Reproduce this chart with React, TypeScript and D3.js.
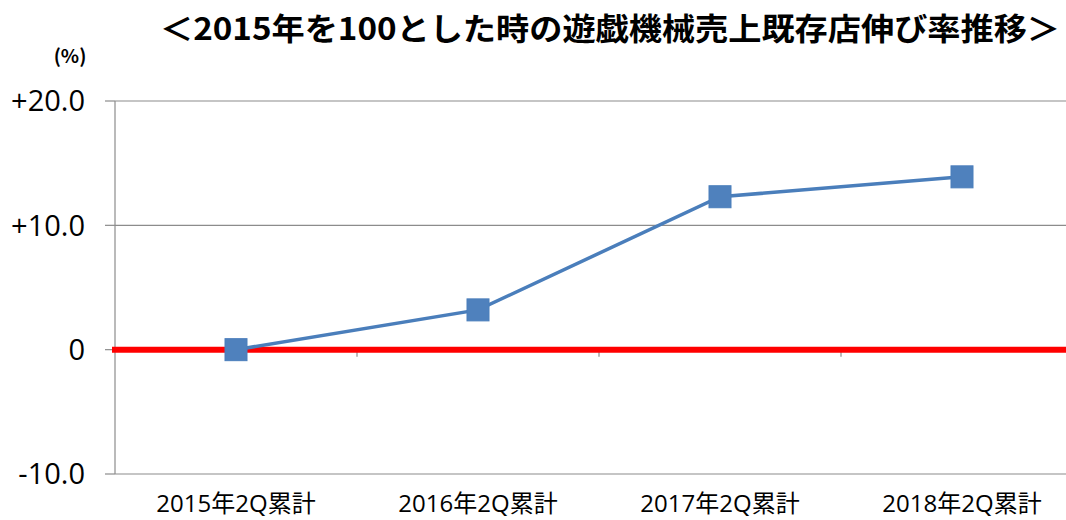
import React from "react";
import * as d3 from "d3";

const categories = ["2015年2Q累計", "2016年2Q累計", "2017年2Q累計", "2018年2Q累計"];
const values = [0, 3.2, 12.3, 13.9];
const yTicks = [-10, 0, 10, 20];
const yTickLabels = ["-10.0", "0", "+10.0", "+20.0"];
const title = "＜2015年を100とした時の遊戯機械売上既存店伸び率推移＞";
const unitLabel = "(%)";

const W = 1066;
const H = 520;
const plotLeft = 115;
const plotRight = 1083;

export default function App() {
  const x = d3.scaleBand<string>().domain(categories).range([plotLeft, plotRight]).padding(0);
  const y = d3.scaleLinear().domain([-10, 20]).range([474, 101]);
  const cx = (c: string) => (x(c) ?? 0) + x.bandwidth() / 2;
  const line = d3
    .line<number>()
    .x((_, i) => cx(categories[i]))
    .y((d) => y(d));
  const font = "'Noto Sans CJK JP', 'Noto Sans', sans-serif";
  return (
    <svg width={W} height={H} style={{ position: "absolute", left: 0, top: 0 }}>
      <rect width={W} height={H} fill="#fff" />
      <text x={1060} y={40} textAnchor="end" fontFamily={font} fontWeight="bold" fontSize={31} fill="#000" textLength={900} lengthAdjust="spacingAndGlyphs">
        {title}
      </text>
      <text x={70} y={63} textAnchor="middle" fontFamily={font} fontWeight="bold" fontSize={19} fill="#000">
        {unitLabel}
      </text>
      {yTicks.map((t) => (
        <line key={"g" + t} x1={plotLeft} x2={plotRight} y1={y(t)} y2={y(t)} stroke="#8c8c8c" strokeWidth={1.2} />
      ))}
      <line x1={plotLeft} x2={plotLeft} y1={y(20)} y2={y(-10)} stroke="#8c8c8c" strokeWidth={1.2} />
      {yTicks.map((t, i) => (
        <g key={"t" + t}>
          <line x1={plotLeft - 10} x2={plotLeft} y1={y(t)} y2={y(t)} stroke="#8c8c8c" strokeWidth={1.2} />
          <text x={85} y={y(t)} dy="0.36em" textAnchor="end" fontFamily="'Open Sans', sans-serif" fontSize={29} fill="#000">
            {yTickLabels[i]}
          </text>
        </g>
      ))}
      {categories.slice(1).map((c) => (
        <line key={"ct" + c} x1={x(c)} x2={x(c)} y1={y(0)} y2={y(0) + 7} stroke="#8c8c8c" strokeWidth={1.2} />
      ))}
      <line x1={plotLeft - 3} x2={plotRight} y1={y(0)} y2={y(0)} stroke="#ff0000" strokeWidth={6} />
      <path d={line(values) ?? ""} fill="none" stroke="#4a7ebb" strokeWidth={3.5} />
      {values.map((v, i) => (
        <rect key={"m" + i} x={cx(categories[i]) - 11} y={y(v) - 11} width={22} height={22} fill="#4f81bd" stroke="#4a7ebb" strokeWidth={1} />
      ))}
      {categories.map((c) => (
        <text key={"xl" + c} x={cx(c)} y={512} textAnchor="middle" fontFamily="'Open Sans', 'Noto Sans CJK JP', sans-serif" fontSize={24} fill="#000">
          {c}
        </text>
      ))}
    </svg>
  );
}
